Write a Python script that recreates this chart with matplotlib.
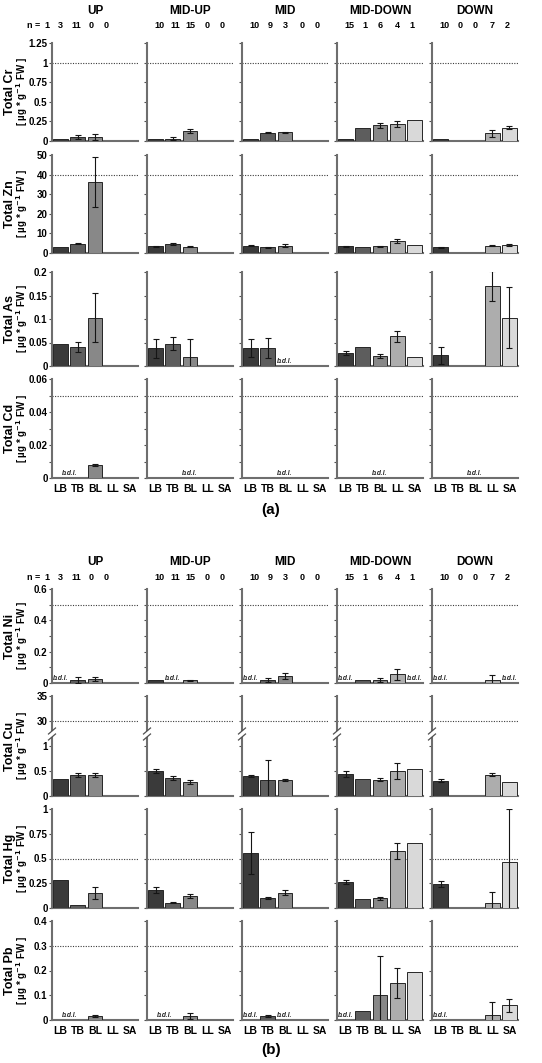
import numpy as np
import matplotlib
matplotlib.use("Agg")
import matplotlib.pyplot as plt
from matplotlib.lines import Line2D

nan = np.nan

# ---------------- data ----------------
sites = ["UP", "MID-UP", "MID", "MID-DOWN", "DOWN"]
tissues = ["LB", "TB", "BL", "LL", "SA"]
n_counts = [[1, 3, 11, 0, 0], [10, 11, 15, 0, 0], [10, 9, 3, 0, 0],
            [15, 1, 6, 4, 1], [10, 0, 0, 7, 2]]

cr_mean = [[0.02, 0.05, 0.05, nan, nan], [0.02, 0.03, 0.13, nan, nan],
           [0.02, 0.105, 0.11, nan, nan], [0.02, 0.17, 0.20, 0.22, 0.27],
           [0.02, nan, nan, 0.10, 0.17]]
cr_err = [[0, 0.025, 0.04, nan, nan], [0, 0.015, 0.025, nan, nan],
          [0, 0.008, 0.008, nan, nan], [0, 0, 0.03, 0.04, 0],
          [0, nan, nan, 0.045, 0.015]]

zn_mean = [[3.0, 4.8, 36.3, nan, nan], [3.4, 4.6, 3.3, nan, nan],
           [3.8, 2.9, 3.8, nan, nan], [3.4, 3.0, 3.4, 6.1, 4.0],
           [3.0, nan, nan, 3.8, 4.1]]
zn_err = [[0, 0.3, 12.9, nan, nan], [0.3, 0.4, 0.3, nan, nan],
          [0.3, 0.2, 0.7, nan, nan], [0.3, 0, 0.3, 0.8, 0],
          [0.3, nan, nan, 0.4, 0.4]]

as_mean = [[0.047, 0.041, 0.103, nan, nan], [0.038, 0.047, 0.019, nan, nan],
           [0.039, 0.039, nan, nan, nan], [0.027, 0.041, 0.021, 0.063, 0.020],
           [0.023, nan, nan, 0.170, 0.103]]
as_err = [[0, 0.011, 0.052, nan, nan], [0.02, 0.014, 0.039, nan, nan],
          [0.019, 0.021, nan, nan, nan], [0.004, 0, 0.004, 0.011, 0],
          [0.018, nan, nan, 0.0315, 0.065]]

cd_mean = [[nan, nan, 0.0078, nan, nan], [nan] * 5, [nan] * 5, [nan] * 5, [nan] * 5]
cd_err = [[nan, nan, 0.0008, nan, nan], [nan] * 5, [nan] * 5, [nan] * 5, [nan] * 5]

ni_mean = [[nan, 0.02, 0.027, nan, nan], [0.016, nan, 0.018, nan, nan],
           [nan, 0.018, 0.043, nan, nan], [nan, 0.016, 0.018, 0.055, nan],
           [nan, nan, nan, 0.018, nan]]
ni_err = [[nan, 0.018, 0.012, nan, nan], [0, nan, 0.003, nan, nan],
          [nan, 0.012, 0.02, nan, nan], [nan, 0, 0.012, 0.037, nan],
          [nan, nan, nan, 0.03, nan]]

cu_mean = [[0.35, 0.43, 0.43, nan, nan], [0.51, 0.36, 0.28, nan, nan],
           [0.41, 0.33, 0.32, nan, nan], [0.45, 0.35, 0.33, 0.51, 0.54],
           [0.31, nan, nan, 0.43, 0.28]]
cu_err = [[0, 0.04, 0.04, nan, nan], [0.04, 0.04, 0.04, nan, nan],
          [0.02, 0.39, 0.02, nan, nan], [0.06, 0, 0.03, 0.16, 0],
          [0.03, nan, nan, 0.03, 0]]

hg_mean = [[0.28, 0.035, 0.15, nan, nan], [0.18, 0.055, 0.12, nan, nan],
           [0.556, 0.105, 0.156, nan, nan], [0.264, 0.088, 0.098, 0.576, 0.657],
           [0.24, nan, nan, 0.047, 0.468]]
hg_err = [[0, 0, 0.063, nan, nan], [0.03, 0.005, 0.02, nan, nan],
          [0.21, 0.01, 0.025, nan, nan], [0.02, 0, 0.015, 0.08, 0],
          [0.03, nan, nan, 0.11, 0.53]]

pb_mean = [[nan, nan, 0.016, nan, nan], [nan, nan, 0.016, nan, nan],
           [nan, 0.016, nan, nan, nan], [nan, 0.038, 0.10, 0.15, 0.195],
           [nan, nan, nan, 0.019, 0.059]]
pb_err = [[nan, nan, 0.003, nan, nan], [nan, nan, 0.012, nan, nan],
          [nan, 0.004, nan, nan, nan], [nan, 0, 0.16, 0.061, 0],
          [nan, nan, nan, 0.055, 0.025]]

# below-detection-limit labels (category positions per site)
as_bdl = [[], [], [2], [], []]
cd_bdl = [[0.5], [2], [2], [2], [2]]
ni_bdl = [[0], [1], [0], [0, 4], [0, 4]]
pb_bdl = [[0.5], [0.5], [0, 2], [0], [0]]

# guideline values (dotted lines)
cr_limit, zn_limit, cd_limit = 1.0, 40, 0.05
ni_limit, cu_limit, hg_limit, pb_limit = 0.5, 30, 0.5, 0.3

# ---------------- style ----------------
colors = ["#3a3a3a", "#5d5d5d", "#888888", "#adadad", "#d9d9d9"]
spine_color = "#6e6e6e"

W, H = 542, 1063
fig = plt.figure(figsize=(W / 100, H / 100), dpi=100)
plt.rcParams['font.family'] = ['Liberation Sans', 'DejaVu Sans']
plt.rcParams['font.weight'] = 'bold'
plt.rcParams['mathtext.default'] = 'bf'

col_left = [52, 147, 242, 337, 432]
col_w = 86


def fx(px):
    return px / W


def fy(py):
    return 1 - py / H


def add_ax(ci, top, bottom):
    return fig.add_axes([fx(col_left[ci]), fy(bottom), col_w / W, (bottom - top) / H])


def fmt(v):
    return "{:g}".format(v)


def style(ax, first, ylim, major, labeled, minor, xlabels, bottom_spine=True):
    ax.set_xlim(-0.5, 4.5)
    ax.set_ylim(*ylim)
    for s in ['top', 'right']:
        ax.spines[s].set_visible(False)
    ax.spines['left'].set_color(spine_color)
    ax.spines['left'].set_linewidth(1.5)
    ax.spines['bottom'].set_color(spine_color)
    ax.spines['bottom'].set_linewidth(1.5)
    ax.spines['bottom'].set_visible(bottom_spine)
    ax.set_yticks(major)
    if first:
        ax.set_yticklabels([fmt(v) if v in labeled else "" for v in major])
    else:
        ax.set_yticklabels([])
    if minor:
        ax.set_yticks(minor, minor=True)
    ax.tick_params(axis='y', which='both', direction='out', length=2.2, width=0.8,
                   color='#505050', labelsize=7, pad=1)
    ax.set_xticks(range(5))
    ax.tick_params(axis='x', length=0, labelsize=7.5, pad=4)
    ax.set_xticklabels(tissues if xlabels else [])
    for t in ax.get_yticklabels() + ax.get_xticklabels():
        t.set_fontweight('bold')


def draw_bars(ax, means, errs):
    m = np.array(means, float)
    e = np.array(errs, float)
    x = np.arange(5)
    ok = ~np.isnan(m)
    if ok.any():
        ax.bar(x[ok], m[ok], width=0.85, color=[colors[i] for i in x[ok]],
               edgecolor='#262626', linewidth=0.7, zorder=3)
    eok = ok & ~np.isnan(e) & (np.nan_to_num(e) > 0)
    if eok.any():
        ax.errorbar(x[eok], m[eok], yerr=e[eok], fmt='none', ecolor='#151515',
                    elinewidth=0.8, capsize=2.5, capthick=0.8, zorder=4)


def draw_limit(ax, val):
    ax.axhline(val, color='#3c3c3c', ls=(0, (1, 1.3)), lw=0.8, zorder=1)


def draw_bdl(ax, positions, ylim):
    for p in positions:
        ax.text(p, ylim[0] + 0.012 * (ylim[1] - ylim[0]), "b.d.l.", ha='center',
                va='bottom', fontsize=4.8, style='italic', fontweight='bold',
                color='#222222', zorder=5)


def ylabel(name, top, bottom):
    yc = fy((top + bottom) / 2)
    fig.text(fx(10), yc, "Total " + name, rotation=90, ha='center', va='center',
             fontsize=9, fontweight='bold')
    fig.text(fx(22), yc, r"[ µg * g$^{-1}$ FW ]", rotation=90, ha='center',
             va='center', fontsize=7, fontweight='bold')


def headers(y_title, y_n):
    n_frac_first = [-0.06, 0.10, 0.28, 0.46, 0.63]
    n_frac = [0.15, 0.33, 0.50, 0.70, 0.87]
    for ci, s in enumerate(sites):
        fig.text(fx(col_left[ci] + col_w / 2), fy(y_title), s, ha='center',
                 va='center', fontsize=8.5, fontweight='bold')
        fr = n_frac_first if ci == 0 else n_frac
        for k in range(5):
            fig.text(fx(col_left[ci] + fr[k] * col_w), fy(y_n), str(n_counts[ci][k]),
                     ha='center', va='center', fontsize=6.5, fontweight='bold')
    fig.text(fx(col_left[0] - 18), fy(y_n), "n =", ha='center', va='center',
             fontsize=6.5, fontweight='bold')


def simple_panel(name, means, errs, ylim, major, labeled, minor, limit, top, bottom,
                 bdl=None, xlabels=False):
    for ci in range(5):
        ax = add_ax(ci, top, bottom)
        style(ax, ci == 0, ylim, major, labeled, minor, xlabels)
        if limit is not None:
            draw_limit(ax, limit)
        draw_bars(ax, means[ci], errs[ci])
        if bdl:
            draw_bdl(ax, bdl[ci], ylim)
    ylabel(name, top, bottom)


# ---------------- panel (a) ----------------
headers(11, 26)
simple_panel("Cr", cr_mean, cr_err, (0, 1.25), [0, 0.25, 0.5, 0.75, 1, 1.25],
             [0, 0.25, 0.5, 0.75, 1, 1.25], None, cr_limit, 43, 141)
simple_panel("Zn", zn_mean, zn_err, (0, 50), [0, 10, 20, 30, 40, 50],
             [0, 10, 20, 30, 40, 50], None, zn_limit, 155, 253)
simple_panel("As", as_mean, as_err, (0, 0.2), [0, 0.05, 0.1, 0.15, 0.2],
             [0, 0.05, 0.1, 0.15, 0.2], None, None, 272, 366, bdl=as_bdl)
simple_panel("Cd", cd_mean, cd_err, (0, 0.06), [0, 0.02, 0.04, 0.06],
             [0, 0.02, 0.04, 0.06], [0.01, 0.03, 0.05], cd_limit, 379, 478,
             bdl=cd_bdl, xlabels=True)
fig.text(0.5, fy(510), "(a)", ha='center', va='center', fontsize=11, fontweight='bold')

# ---------------- panel (b) ----------------
headers(562, 577)
simple_panel("Ni", ni_mean, ni_err, (0, 0.6), [0, 0.2, 0.4, 0.6],
             [0, 0.2, 0.4, 0.6], [0.1, 0.3, 0.5], ni_limit, 589, 683, bdl=ni_bdl)

# Cu with broken axis
cu_top, cu_break_hi, cu_break_lo, cu_bottom = 696, 730, 738, 796
for ci in range(5):
    axu = add_ax(ci, cu_top, cu_break_hi)
    style(axu, ci == 0, (28.2, 35), [30, 35], [30, 35], None, False, bottom_spine=False)
    draw_limit(axu, cu_limit)
    draw_bars(axu, cu_mean[ci], cu_err[ci])
    axl = add_ax(ci, cu_break_lo, cu_bottom)
    style(axl, ci == 0, (0, 1.17), [0, 0.5, 1], [0, 0.5, 1], None, False)
    draw_bars(axl, cu_mean[ci], cu_err[ci])
    x0 = col_left[ci]
    for yb in (cu_break_hi + 1, cu_break_lo - 1):
        fig.add_artist(Line2D([fx(x0 - 3.5), fx(x0 + 3.5)], [fy(yb + 3), fy(yb - 3)],
                              transform=fig.transFigure, color='#505050', lw=0.9))
ylabel("Cu", cu_top, cu_bottom)

simple_panel("Hg", hg_mean, hg_err, (0, 1), [0, 0.25, 0.5, 0.75, 1],
             [0, 0.25, 0.5, 0.75, 1], None, hg_limit, 809, 908)
simple_panel("Pb", pb_mean, pb_err, (0, 0.4), [0, 0.1, 0.2, 0.3, 0.4],
             [0, 0.1, 0.2, 0.3, 0.4], None, pb_limit, 921, 1020, bdl=pb_bdl,
             xlabels=True)
fig.text(0.5, fy(1050), "(b)", ha='center', va='center', fontsize=11, fontweight='bold')

fig.savefig("out.png", dpi=100)
